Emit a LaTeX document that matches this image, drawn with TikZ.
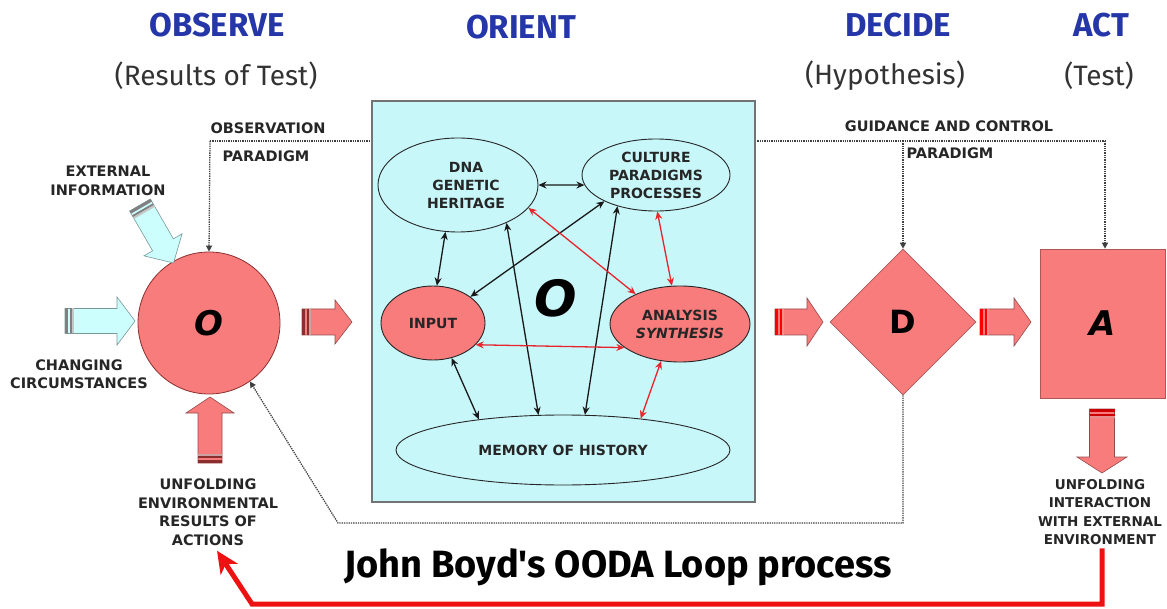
\documentclass[tikz,border=0pt]{standalone}
\usepackage{fontspec}
\setmainfont{DejaVu Sans}
\newfontfamily\headfont{Fira Sans}
\usetikzlibrary{shapes.geometric,arrows.meta,calc}
\definecolor{salmon}{HTML}{F97C7C}
\definecolor{cyanfill}{HTML}{CCFEFE}
\definecolor{boxfill}{HTML}{C8F7FA}
\definecolor{headblue}{HTML}{2436A8}
\definecolor{loopred}{HTML}{EE1111}
\definecolor{darkred}{HTML}{8B2E2E}
\definecolor{arrred}{HTML}{E8242C}
\definecolor{subgray}{HTML}{333333}

\newcommand{\blockarrow}[8]{%
 \begin{scope}[shift={#1},rotate=#2]
  \path[fill=#7,draw=#7!60!black,line width=0.6pt] (0,-#4) -- ({#3-#6},-#4) -- ({#3-#6},-#5) -- (#3,0) -- ({#3-#6},#5) -- ({#3-#6},#4) -- (0,#4) -- cycle;
  \fill[#8] (0,-#4) rectangle (3,#4);
  \fill[#8] (5,-#4) rectangle (7,#4);
  \fill[#8!45!white] (7,-#4) rectangle (9,#4);
 \end{scope}}

\tikzset{
  head/.style={font=\headfont\bfseries\fontsize{33}{33}\selectfont, text=headblue},
  sub/.style={font=\headfont\fontsize{28}{28}\selectfont, text=subgray},
  lab/.style={font=\bfseries\fontsize{14.5}{18.5}\selectfont, align=center, text=black!85},
  inlab/.style={font=\bfseries\fontsize{14}{18}\selectfont, align=center, text=black!85},
  ell/.style={ellipse, draw=black!85, line width=0.9pt, inner sep=0pt, align=center},
  big/.style={font=\bfseries\itshape\fontsize{34}{34}\selectfont},
  dotline/.style={densely dotted, line width=1.3pt, draw=black!75},
  dottip/.style={-{Triangle[length=6pt,width=6pt]}},
  blk/.style={line width=1.3pt, draw=black!90, arrows={Stealth[length=8pt,width=7pt]-Stealth[length=8pt,width=7pt]}},
  rd/.style={line width=1.3pt, draw=arrred, arrows={Stealth[length=8pt,width=7pt]-Stealth[length=8pt,width=7pt]}},
}

\begin{document}
\begin{tikzpicture}[x=1pt,y=-1pt]
\useasboundingbox (0,0) rectangle (1167,609);
\fill[white] (0,0) rectangle (1167,609);

% headings
\node[head] (hobs) at (217,25) {OBSERVE};
\node[head] (hori) at (521,27) {ORIENT};
\node[head] (hdec) at (898,25) {DECIDE};
\node[head] (hact) at (1101,25) {ACT};
\node[sub] (sobs) at (216,76) {(Results of Test)};
\node[sub] (sdec) at (885,76) {(Hypothesis)};
\node[sub] (sact) at (1099,76) {(Test)};

% main shapes
\node[circle, fill=salmon, draw=darkred, line width=0.8pt, minimum size=142pt, inner sep=0pt, big] (obs) at (209,323) {O};
\node[diamond, fill=salmon, draw=salmon!70!black, line width=0.6pt, minimum width=146pt, minimum height=146pt, inner sep=0pt, font=\bfseries\fontsize{32}{32}\selectfont] (dec) at (903,322) {D};
\node[rectangle, fill=salmon, draw=salmon!70!black, line width=0.6pt, minimum width=125pt, minimum height=149pt, inner sep=0pt, big] (act) at (1102.5,323.5) {A};

% dotted guidance lines
\coordinate (topL) at (210,141);
\coordinate (topR) at (1105,141);
\coordinate (botR) at (903,523);
\coordinate (botL) at (338,523);
\draw[dotline] (topL) -- (topR);
\draw[dotline,dottip] (topL) -- (obs.north);
\draw[dotline,dottip] (dec.north |- topL) -- (dec.north);
\draw[dotline,dottip] (topR) -- (topR |- act.north);
\draw[dotline,dottip] (dec.south) -- (botR) -- (botL) -- (obs.-55);

\node[lab] (lobs1) at (268,128) {OBSERVATION};
\node[lab] (lobs2) at (266,156) {PARADIGM};
\node[lab] (lgc1) at (949,126) {GUIDANCE AND CONTROL};
\node[lab] (lgc2) at (950,153) {PARADIGM};

% orient box
\node[rectangle, fill=boxfill, draw=black!55, line width=1.5pt, minimum width=383pt, minimum height=401pt] (orient) at (563.5,301.5) {};

\node[ell, minimum width=160pt, minimum height=94pt] (dna) at (458,185) {};
\node[inlab] at (466,185) {DNA\\GENETIC\\HERITAGE};
\node[ell, minimum width=148pt, minimum height=72pt, inlab] (cult) at (656,175) {CULTURE\\PARADIGMS\\PROCESSES};
\node[ell, fill=salmon, minimum width=104pt, minimum height=74pt, inlab] (inp) at (433,323) {INPUT};
\node[ell, fill=salmon, minimum width=140pt, minimum height=76pt, inlab] (ana) at (680,324) {ANALYSIS\\\itshape SYNTHESIS};
\node[ell, minimum width=334pt, minimum height=70pt, inlab] (mem) at (563,450) {MEMORY OF HISTORY};
\node[font=\bfseries\itshape\fontsize{50}{50}\selectfont] (bigO) at (556,298) {O};

% arrows inside orient
\draw[blk] (dna.0) -- (cult.188);
\draw[blk] (dna.255) -- (inp.84);
\draw[blk] (cult.207) -- (inp.35);
\draw[blk] (dna.322) -- (mem.125);
\draw[blk] (cult.219) -- (mem.58);
\draw[blk] (inp.298) -- (mem.160);
\draw[rd] (dna.342) -- (ana.146);
\draw[rd] (cult.272) -- (ana.102);
\draw[rd] (inp.333) -- (ana.203);
\draw[rd] (ana.243) -- (mem.22);

% block arrows
\blockarrow{(140,205)}{-60}{67}{12}{22}{21}{cyanfill}{gray}
\blockarrow{(65,321)}{0}{70}{12.5}{24}{18}{cyanfill}{gray}
\blockarrow{(210,463)}{90}{66}{12}{24}{16}{salmon}{darkred}
\blockarrow{(302,322)}{0}{50}{13}{22}{17}{salmon}{darkred}
\blockarrow{(775,322)}{0}{48}{13}{24}{16}{salmon}{red}
\blockarrow{(980,322)}{0}{51}{13}{24}{17}{salmon}{red}
\blockarrow{(1102,409)}{-90}{64}{12.5}{25}{16}{salmon}{red!80!black}

% outer labels
\node[lab] (lext) at (108,181) {EXTERNAL\\INFORMATION};
\node[lab] (lchg) at (79,374) {CHANGING\\CIRCUMSTANCES};
\node[lab] (luo) at (208,512) {UNFOLDING\\ENVIRONMENTAL\\RESULTS OF\\ACTIONS};
\node[lab, font=\bfseries\fontsize{13.5}{18.5}\selectfont] (lua) at (1100,512) {UNFOLDING\\INTERACTION\\WITH EXTERNAL\\ENVIRONMENT};

% title
\node[font=\headfont\bfseries\fontsize{38}{38}\selectfont] (title) at (618,567) {John Boyd's OODA Loop process};

% red loop
\coordinate (rl1) at (1102,604);
\coordinate (rl2) at (252,604);
\draw[loopred, line width=5pt, line join=miter, -{Stealth[length=22pt,width=20pt,inset=6pt]}] (lua.south -| rl1) -- (rl1) -- (rl2) -- ([xshift=9pt,yshift=-2pt]luo.south);
\end{tikzpicture}
\end{document}
